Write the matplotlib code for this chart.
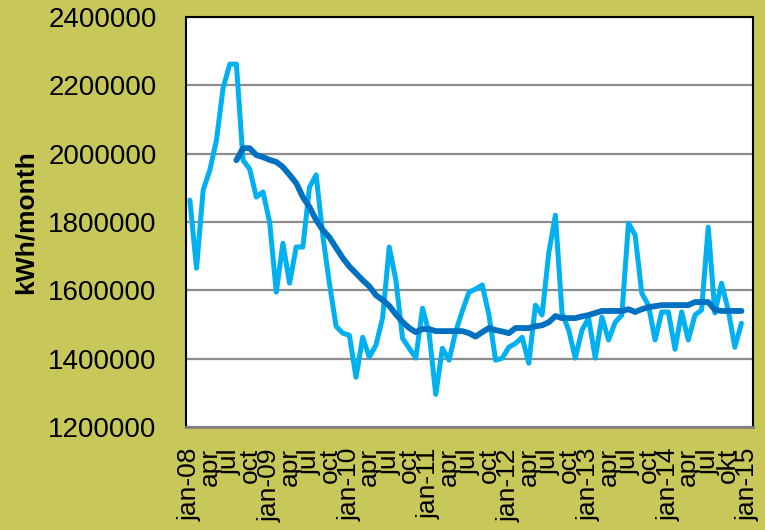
import numpy as np
import matplotlib
matplotlib.use('Agg')
import matplotlib.pyplot as plt

# monthly consumption, jan-08 .. dec-14
monthly = [1864000, 1665000, 1894000, 1952000, 2040000, 2192000, 2262000, 2262000,
           1981000, 1955000, 1873000, 1888000, 1800000, 1595000, 1738000, 1621000,
           1727000, 1727000, 1902000, 1938000, 1760000, 1620000, 1495000, 1475000,
           1469000, 1346000, 1463000, 1405000, 1440000, 1520000, 1727000, 1630000,
           1460000, 1431000, 1402000, 1548000, 1475000, 1296000, 1431000, 1396000,
           1480000, 1540000, 1595000, 1604000, 1616000, 1528000, 1396000, 1402000,
           1434000, 1445000, 1463000, 1387000, 1557000, 1528000, 1709000, 1820000,
           1534000, 1484000, 1402000, 1484000, 1519000, 1402000, 1522000, 1455000,
           1507000, 1528000, 1797000, 1762000, 1592000, 1557000, 1455000, 1537000,
           1537000, 1428000, 1537000, 1455000, 1528000, 1543000, 1785000, 1534000,
           1621000, 1543000, 1434000, 1504000]

# running average (starts in aug-08)
average = [np.nan] * 7 + [
    1981000, 2016000, 2016000, 1996000, 1990000, 1982000, 1976000, 1961000,
    1938000, 1914000, 1873000, 1844000, 1806000, 1777000, 1755000, 1725000,
    1695000, 1670000, 1650000, 1630000, 1612000, 1586000, 1572000, 1555000,
    1530000, 1508000, 1490000, 1478000, 1487000, 1487000, 1481000, 1481000,
    1481000, 1481000, 1481000, 1475000, 1465000, 1478000, 1490000, 1484000,
    1480000, 1475000, 1490000, 1490000, 1490000, 1495000, 1498000, 1507000,
    1525000, 1519000, 1519000, 1519000, 1524000, 1528000, 1534000, 1540000,
    1540000, 1540000, 1540000, 1545000, 1537000, 1545000, 1551000, 1554000,
    1557000, 1557000, 1557000, 1557000, 1557000, 1566000, 1566000, 1566000,
    1543000, 1540000, 1540000, 1540000, 1540000]

tick_labels = ['jan-08', 'apr', 'jul', 'oct', 'jan-09', 'apr', 'jul', 'oct',
               'jan-10', 'apr', 'jul', 'oct', 'jan-11', 'apr', 'jul', 'oct',
               'jan-12', 'apr', 'jul', 'oct', 'jan-13', 'apr', 'jul', 'oct',
               'jan-14', 'apr', 'jul', 'okt', 'jan-15']

bg = '#C8C85A'
months = np.arange(len(monthly))

fig = plt.figure(figsize=(7.65, 5.3), dpi=100, facecolor=bg)
ax = fig.add_axes([0.243, 0.194, 0.741, 0.774])
ax.set_facecolor('white')

ax.plot(months, monthly, color='#00B0F0', lw=3.6, solid_joinstyle='round',
        solid_capstyle='round', zorder=3)
ax.plot(months, average, color='#0070C0', lw=4.2, solid_joinstyle='round',
        solid_capstyle='round', zorder=4)

ax.set_ylim(1200000, 2400000)
ax.set_yticks(np.arange(1200000, 2400001, 200000))
ax.set_yticklabels(['%d' % v for v in np.arange(1200000, 2400001, 200000)],
                   fontsize=20, family='Liberation Sans')
ax.set_xlim(-0.6, 84.7)
ax.set_xticks(np.arange(0, 85, 3))
ax.set_xticklabels(tick_labels, rotation=90, fontsize=19, family='Liberation Sans')
ax.tick_params(axis='y', length=0, pad=21)
ax.tick_params(axis='x', length=0, pad=15)

ax.grid(axis='y', color='#8C8C8C', lw=1.6)
ax.set_axisbelow(True)
for s in ['left', 'top', 'right']:
    ax.spines[s].set_color('black')
    ax.spines[s].set_linewidth(1.5)
ax.spines['bottom'].set_color('#808080')
ax.spines['bottom'].set_linewidth(2)

fig.text(0.033, 0.58, 'kWh/month', rotation=90, ha='center', va='center',
         fontsize=19, fontweight='bold', family='Liberation Sans')

fig.savefig('out.png', dpi=100, facecolor=bg)
